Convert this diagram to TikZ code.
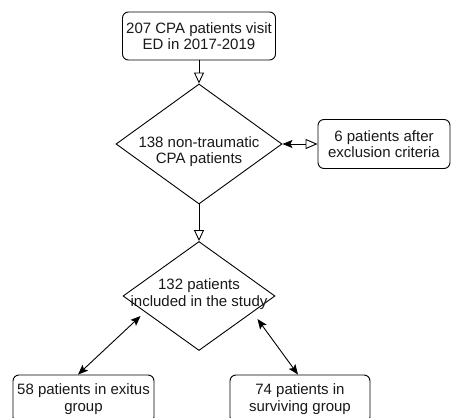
\documentclass[tikz,border=0pt]{standalone}
\usepackage{fontspec}
\setmainfont{Liberation Sans}
\usetikzlibrary{shapes.geometric,arrows.meta,calc}
\tikzset{
  every node/.style={font=\fontsize{15pt}{16.5pt}\selectfont, align=center, text=black!90},
  rbox/.style={draw, rounded corners=6pt, inner sep=0pt, line width=0.9pt},
  dia/.style={draw, diamond, inner sep=0pt, line width=0.9pt},
  conn/.style={line width=0.9pt},
  openhead/.style={-{Triangle[open,length=11pt,width=10pt]}},
}
\begin{document}
\begin{tikzpicture}[x=1pt,y=-1pt]
\useasboundingbox (0,0) rectangle (451,418);
\clip (0,0) rectangle (451,418);
\fill[white] (0,0) rectangle (451,418);
\node[rbox, minimum width=153pt, minimum height=48pt] (top) at (199,36) {207 CPA patients visit\\ED in 2017-2019};
\node[dia, minimum width=166pt, minimum height=120pt] (d1) at (199,144) {};
\node (t1) at (199,151.5) {138 non-traumatic\\CPA patients};
\node[rbox, minimum width=132pt, minimum height=49pt] (ex) at (384,144) {6 patients after\\exclusion criteria};
\node[dia, minimum width=152pt, minimum height=109pt] (d2) at (199,296) {};
\node (t2) at (199,294) {132 patients\\included in the study};
\node[rbox, minimum width=141pt, minimum height=48pt] (lb) at (83.5,399) {58 patients in exitus\\group};
\node[rbox, minimum width=140pt, minimum height=48pt] (rb) at (300,399) {74 patients in\\surviving group};
\draw[conn, openhead] (top.south) -- (d1.north);
\draw[conn, {Stealth[length=10pt,width=8pt,inset=2pt]}-{Triangle[open,length=12pt,width=10pt]}] (d1.east) -- (ex.west);
\draw[conn, openhead] (d1.south) -- (d2.north);
\draw[conn, {Stealth[length=10pt,width=8pt,inset=2pt]}-{Stealth[length=10pt,width=8pt,inset=2pt]}] ($(lb.north)+(-5.5,0)$) -- ($(d2.west)+(18,20)$);
\draw[conn, {Stealth[length=10pt,width=8pt,inset=2pt]}-{Stealth[length=10pt,width=8pt,inset=2pt]}] ($(d2.east)+(-18,23)$) -- ($(rb.north)+(-2,0)$);
\end{tikzpicture}
\end{document}
